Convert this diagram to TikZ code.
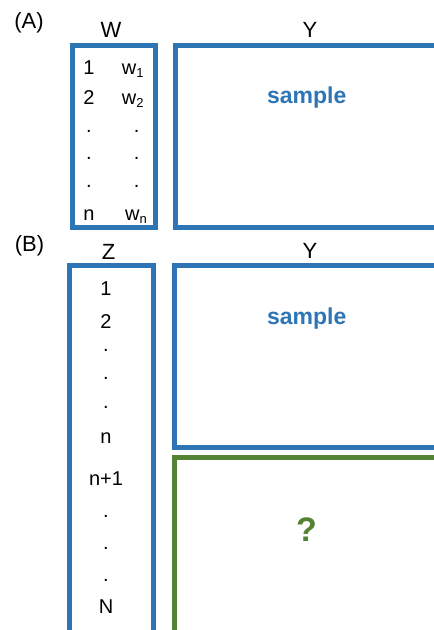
\documentclass[tikz,border=0pt]{standalone}
\usepackage{fontspec}
\setmainfont{Liberation Sans}
\definecolor{boxblue}{HTML}{2E75B6}
\definecolor{boxgreen}{HTML}{548235}
\newcommand{\subsc}[1]{\raisebox{-3pt}{\fontsize{13}{14}\selectfont #1}}
\tikzset{
  lbl/.style={font=\fontsize{22}{26}\selectfont, inner sep=0pt},
  hdr/.style={font=\fontsize{22}{26}\selectfont, inner sep=0pt, anchor=base},
  cell/.style={font=\fontsize{20}{24}\selectfont, inner sep=0pt, anchor=base},
  wcell/.style={font=\fontsize{20}{24}\selectfont, inner sep=0pt, anchor=base west},
  bluebox/.style={draw=boxblue, line width=5pt},
  greenbox/.style={draw=boxgreen, line width=5pt},
  sampletxt/.style={font=\fontsize{23}{27}\selectfont\bfseries, text=boxblue, inner sep=0pt, anchor=base},
  qtxt/.style={font=\fontsize{34}{38}\selectfont\bfseries, text=boxgreen, inner sep=0pt, anchor=base},
}
\begin{document}
\begin{tikzpicture}[x=1pt, y=-1pt]
\useasboundingbox (0,0) rectangle (434,630);
\clip (0,0) rectangle (434,630);
\fill[white] (0,0) rectangle (434,630);
% ---------- panel A ----------
\node[lbl] (labA) at (29,23) {(A)};
\node[hdr] (hW) at (111,37.3) {W};
\node[hdr] (hYa) at (310,37.3) {Y};
\draw[bluebox] (72.5,45.5) rectangle (155.5,227.5);
\draw[bluebox] (175.5,45.5) rectangle (460,227.5);
\node[cell] (a1) at (89,74) {1};
\node[cell] (a2) at (89,104) {2};
\node[cell] (ad1) at (89,132.5) {.};
\node[cell] (ad2) at (89,159.5) {.};
\node[cell] (ad3) at (89,187) {.};
\node[cell] (an) at (89,220) {n};
\node[wcell] (w1) at (121.7,74) {w\subsc{1}};
\node[wcell] (w2) at (121.7,104) {w\subsc{2}};
\node[cell] (wd1) at (136.7,132.5) {.};
\node[cell] (wd2) at (136.7,159.5) {.};
\node[cell] (wd3) at (136.7,187) {.};
\node[wcell] (wn) at (125,220) {w\subsc{n}};
\node[sampletxt] (sA) at (306.7,103.3) {sample};
% ---------- panel B ----------
\node[lbl] (labB) at (29.5,245.8) {(B)};
\node[hdr] (hZ) at (108.7,259.5) {Z};
\node[hdr] (hYb) at (310,258.5) {Y};
\draw[bluebox] (69,265.8) rectangle (153,680);
\draw[bluebox] (174.5,265.8) rectangle (460,447.5);
\draw[greenbox] (174.5,457.5) rectangle (460,680);
\node[cell] (b1) at (106,295) {1};
\node[cell] (b2) at (106,328.3) {2};
\node[cell] (bd1) at (106,351.5) {.};
\node[cell] (bd2) at (106,379.8) {.};
\node[cell] (bd3) at (106,408.2) {.};
\node[cell] (bn) at (106,443.3) {n};
\node[cell] (bn1) at (106,485) {n+1};
\node[cell] (bd4) at (106,517.5) {.};
\node[cell] (bd5) at (106,549.5) {.};
\node[cell] (bd6) at (106,581.5) {.};
\node[cell] (bN) at (106,613.3) {N};
\node[sampletxt] (sB) at (306.7,324.5) {sample};
\node[qtxt] (q) at (306.5,541.7) {?};
\end{tikzpicture}
\end{document}
